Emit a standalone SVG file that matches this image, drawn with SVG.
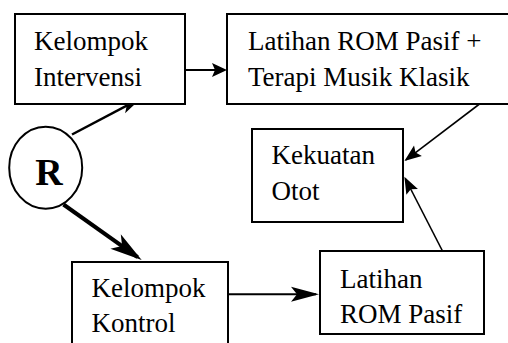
<svg xmlns="http://www.w3.org/2000/svg" width="508" height="343" viewBox="0 0 508 343">
<style>
.box{fill:#fff;stroke:#000;stroke-width:2}
.c{fill:none;stroke:#000}
</style>
<defs>
<marker id="mA" markerUnits="userSpaceOnUse" markerWidth="22" markerHeight="12" refX="19" refY="6" orient="auto" overflow="visible"><path d="M0,0 L22,6 L0,12 L5,6 z" fill="#000"/></marker>
<marker id="mB" markerUnits="userSpaceOnUse" markerWidth="32" markerHeight="20" refX="27" refY="10" orient="auto" overflow="visible"><path d="M0,1 L32,10 L0,19 L8,10 z" fill="#000"/></marker>
<marker id="mC" markerUnits="userSpaceOnUse" markerWidth="15" markerHeight="14" refX="13" refY="7" orient="auto" overflow="visible"><path d="M0,0 L15,7 L0,14 L3,7 z" fill="#000"/></marker>
<marker id="mD" markerUnits="userSpaceOnUse" markerWidth="28" markerHeight="15" refX="25" refY="7.5" orient="auto" overflow="visible"><path d="M0,0 L28,7.5 L0,15 L6,7.5 z" fill="#000"/></marker>
<marker id="mE" markerUnits="userSpaceOnUse" markerWidth="17" markerHeight="13" refX="15" refY="6.5" orient="auto" overflow="visible"><path d="M0,0 L17,6.5 L0,13 L3,6.5 z" fill="#000"/></marker>
</defs>
<g id="connectors">
<line class="c" x1="72" y1="134.5" x2="139.1" y2="99.1" stroke-width="2.5" marker-end="url(#mA)"/>
<line class="c" x1="63.5" y1="204.5" x2="137.6" y2="257.1" stroke-width="4" marker-end="url(#mB)"/>
<line class="c" x1="185" y1="70" x2="225" y2="70" stroke-width="2" marker-end="url(#mC)"/>
<line class="c" x1="228" y1="294.3" x2="316" y2="294.3" stroke-width="2" marker-end="url(#mD)"/>
<line class="c" x1="479.5" y1="104" x2="406" y2="159.8" stroke-width="1.6" marker-end="url(#mE)"/>
<line class="c" x1="442.5" y1="251" x2="405.3" y2="178.5" stroke-width="1.6" marker-end="url(#mE)"/>
</g>
<g font-family="Liberation Serif, Times New Roman, serif" font-size="27" fill="#000">
<g id="node-intervensi">
<rect class="box" x="15" y="14" width="170" height="90"/>
<text x="34" y="50">Kelompok</text>
<text x="34" y="86">Intervensi</text>
</g>
<g id="node-terapi">
<rect class="box" x="227" y="14" width="290" height="90"/>
<text x="248" y="50">Latihan ROM Pasif +</text>
<text x="248" y="86">Terapi Musik Klasik</text>
</g>
<g id="node-kekuatan">
<rect class="box" x="252" y="129" width="151" height="93"/>
<text x="271.5" y="163.5">Kekuatan</text>
<text x="271.5" y="200">Otot</text>
</g>
<g id="node-r">
<ellipse cx="45.7" cy="167.7" rx="36.5" ry="41" fill="#fff" stroke="#000" stroke-width="2"/>
<text x="49" y="185" text-anchor="middle" font-size="38" font-weight="bold">R</text>
</g>
<g id="node-kontrol">
<rect class="box" x="72" y="262" width="156" height="100"/>
<text x="91.5" y="297">Kelompok</text>
<text x="91.5" y="332">Kontrol</text>
</g>
<g id="node-rom">
<rect class="box" x="320" y="251" width="164" height="83"/>
<text x="340" y="287.5">Latihan</text>
<text x="340" y="322.5">ROM Pasif</text>
</g>
</g>
</svg>
